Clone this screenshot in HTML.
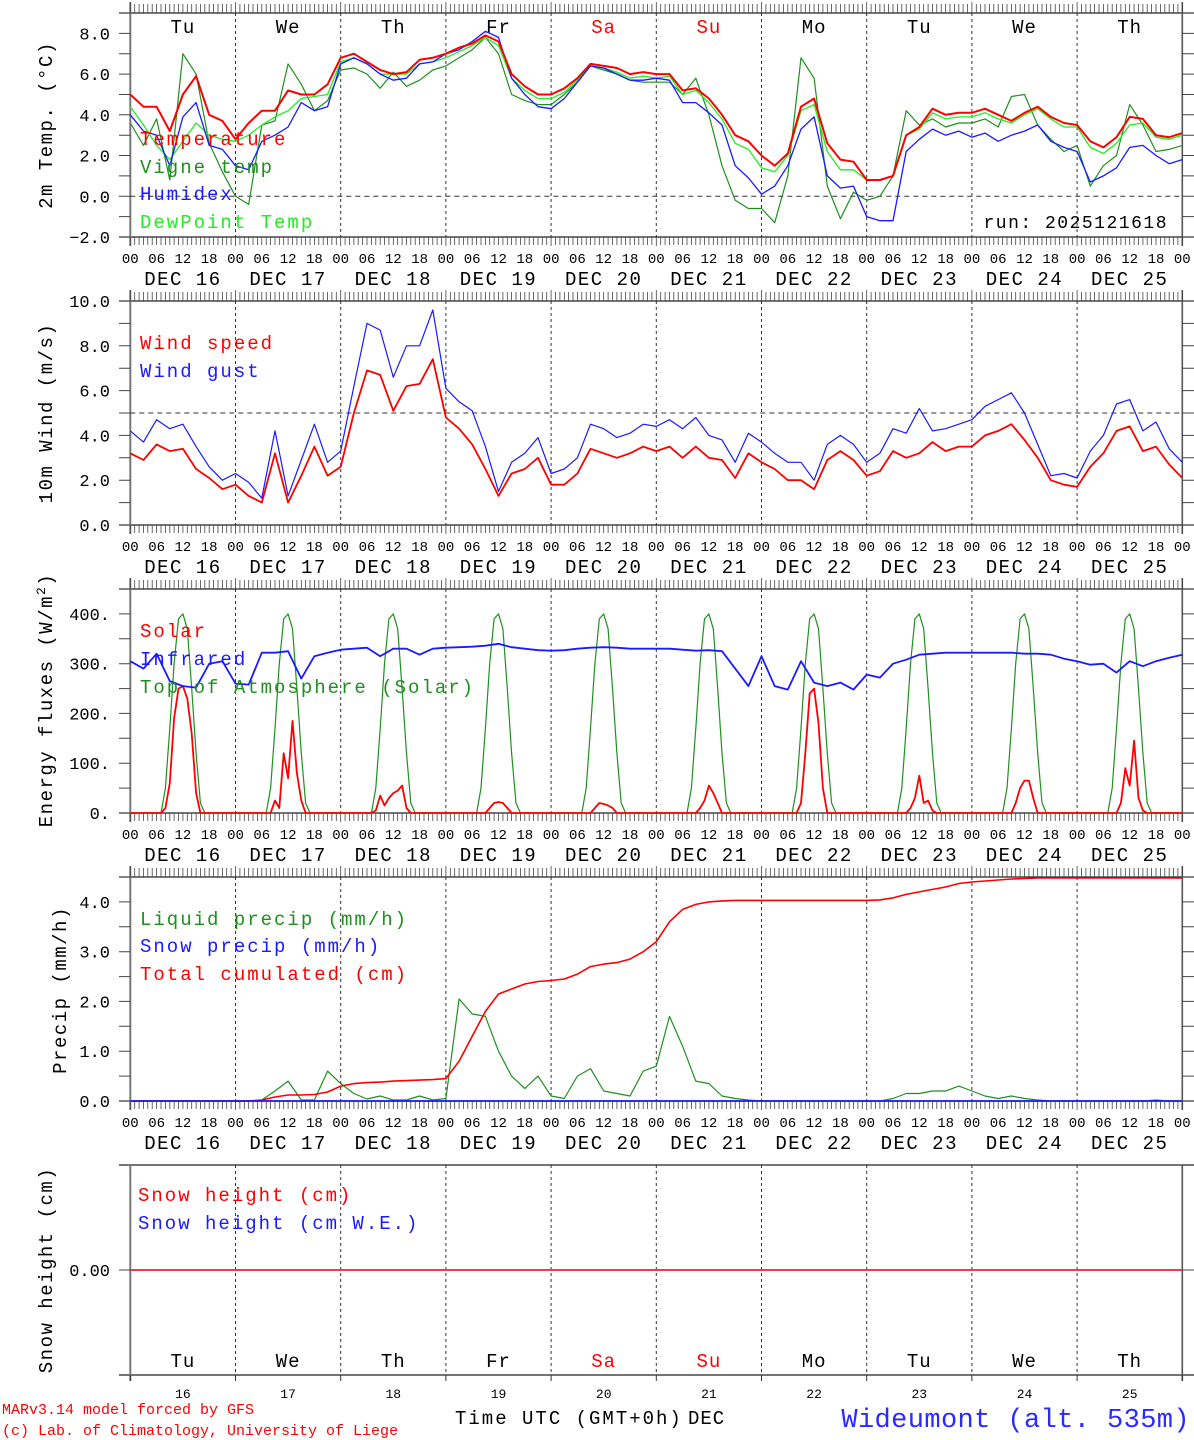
<!DOCTYPE html>
<html><head><meta charset="utf-8"><title>MAR forecast - Wideumont</title>
<style>
html,body{margin:0;padding:0;background:#fff;}
svg{display:block;}
text{font-family:"Liberation Mono","DejaVu Sans Mono",monospace;}
</style></head>
<body>
<svg id="chart" xmlns="http://www.w3.org/2000/svg" width="1194" height="1440" viewBox="0 0 1194 1440"></svg>
<script>
// ---------- DATA ----------
var days = ["16","17","18","19","20","21","22","23","24","25"];
var dows = ["Tu","We","Th","Fr","Sa","Su","Mo","Tu","We","Th"];
var dowColors = ["#000","#000","#000","#000","#f00","#f00","#000","#000","#000","#000"];
var hourTicks = ["00","06","12","18"];
var temperature = [5.0,4.4,4.4,3.2,5.0,5.9,4.0,3.7, 2.8,3.6,4.2,4.2,5.2,5.0,5.0,5.5, 6.8,7.0,6.6,6.2,6.0,6.1,6.7,6.8, 7.0,7.3,7.5,7.9,7.6,6.0,5.4,5.0, 5.0,5.3,5.8,6.5,6.4,6.3,6.0,6.1, 6.0,6.0,5.2,5.3,4.8,4.0,3.0,2.7, 2.0,1.5,2.1,4.4,4.8,2.6,1.8,1.7, 0.8,0.8,1.0,3.0,3.4,4.3,4.0,4.1, 4.1,4.3,4.0,3.7,4.1,4.4,3.9,3.6, 3.5,2.7,2.4,2.9,3.9,3.8,3.0,2.9,3.1];
var vigneTemp = [3.6,2.5,3.8,0.8,7.0,6.0,2.6,1.2, 0.0,-0.4,3.5,3.7,6.5,5.5,4.2,4.7, 6.2,6.3,6.0,5.3,6.1,5.4,5.7,6.2, 6.4,6.8,7.2,7.8,7.0,5.0,4.7,4.5, 4.5,5.0,5.6,6.4,6.2,6.0,5.7,5.6, 5.6,5.6,5.0,5.8,4.0,1.5,-0.2,-0.6, -0.6,-1.3,1.0,6.8,5.8,0.5,-1.1,0.2, -0.2,0.0,1.0,4.2,3.5,3.8,3.4,3.6, 3.6,3.8,3.4,4.9,5.0,3.5,2.8,2.2, 2.5,0.5,1.5,2.0,4.5,3.5,2.2,2.3,2.5];
var humidex = [4.0,3.2,3.0,1.5,3.9,4.6,2.5,2.3, 1.5,1.3,2.7,3.0,3.4,4.6,4.2,4.4, 6.5,6.8,6.5,6.0,5.7,5.8,6.5,6.6, 7.0,7.2,7.6,8.1,7.8,5.8,5.0,4.4, 4.3,4.8,5.6,6.4,6.3,6.0,5.7,5.7, 5.8,5.7,4.6,4.6,4.1,3.5,1.5,0.9, 0.1,0.5,1.5,3.3,3.9,1.0,0.4,0.5, -1.0,-1.2,-1.2,2.2,2.8,3.3,3.0,3.2, 2.9,3.1,2.7,3.0,3.2,3.5,2.7,2.4, 2.2,0.7,1.0,1.4,2.4,2.5,2.0,1.6,1.8];
var dewPoint = [4.4,3.5,2.5,1.8,2.7,3.6,3.0,2.8, 2.7,3.0,3.5,3.9,4.2,4.8,4.9,5.0, 6.6,6.8,6.5,6.0,6.0,6.0,6.5,6.6, 6.8,7.1,7.4,7.8,7.4,5.8,5.2,4.8, 4.8,5.1,5.7,6.4,6.3,6.1,5.8,5.9, 5.8,5.9,5.0,5.2,4.6,3.8,2.6,2.3, 1.4,1.2,2.0,4.2,4.5,2.2,1.3,1.3, 0.8,0.8,1.0,3.0,3.3,4.1,3.8,3.9, 3.9,4.1,3.8,3.6,4.0,4.3,3.8,3.4, 3.4,2.4,2.1,2.6,3.5,3.6,2.9,2.8,3.0];
var windSpeed = [3.2,2.9,3.6,3.3,3.4,2.5,2.1,1.6, 1.8,1.3,1.0,3.2,1.0,2.2,3.5,2.2, 2.6,5.0,6.9,6.7,5.1,6.2,6.3,7.4, 4.8,4.3,3.6,2.5,1.3,2.3,2.5,3.0, 1.8,1.8,2.3,3.4,3.2,3.0,3.2,3.5, 3.3,3.5,3.0,3.5,3.0,2.9,2.1,3.2, 2.8,2.5,2.0,2.0,1.6,2.9,3.3,2.9, 2.2,2.4,3.3,3.0,3.2,3.7,3.3,3.5, 3.5,4.0,4.2,4.5,3.8,3.0,2.0,1.8, 1.7,2.6,3.2,4.2,4.4,3.3,3.5,2.7,2.1];
var windGust = [4.2,3.7,4.7,4.3,4.5,3.5,2.6,2.0, 2.3,1.9,1.2,4.2,1.3,2.9,4.5,2.8, 3.3,6.2,9.0,8.7,6.6,8.0,8.0,9.6, 6.1,5.5,5.1,3.5,1.5,2.8,3.2,3.9, 2.3,2.5,3.0,4.5,4.3,3.9,4.1,4.5, 4.4,4.7,4.3,4.8,4.0,3.8,2.8,4.1, 3.7,3.2,2.8,2.8,2.0,3.6,4.0,3.6, 2.8,3.2,4.3,4.1,5.2,4.2,4.3,4.5, 4.7,5.3,5.6,5.9,5.0,3.6,2.2,2.3, 2.1,3.3,4.0,5.4,5.6,4.2,4.6,3.4,2.8];
var solar = [
0,0,0,0,0,0,0,0,10,60,190,250,255,230,160,40,0,0,0,0,0,0,0,0,
0,0,0,0,0,0,0,0,0,25,10,120,70,185,80,25,0,0,0,0,0,0,0,0,
0,0,0,0,0,0,0,0,5,35,15,30,40,45,55,10,0,0,0,0,0,0,0,0,
0,0,0,0,0,0,0,0,0,0,10,20,22,20,10,0,0,0,0,0,0,0,0,0,
0,0,0,0,0,0,0,0,0,0,10,20,18,15,10,0,0,0,0,0,0,0,0,0,
0,0,0,0,0,0,0,0,0,0,10,25,55,40,20,0,0,0,0,0,0,0,0,0,
0,0,0,0,0,0,0,0,0,20,120,240,250,180,50,0,0,0,0,0,0,0,0,0,
0,0,0,0,0,0,0,0,0,0,10,30,75,20,25,5,0,0,0,0,0,0,0,0,
0,0,0,0,0,0,0,0,0,0,20,50,65,65,30,0,0,0,0,0,0,0,0,0,
0,0,0,0,0,0,0,0,0,0,20,90,55,145,30,5,0,0,0,0,0,0,0,0,0];
var topAtmosphere = [
0,0,0,0,0,0,0,0,50,170,300,390,400,370,250,120,20,0,0,0,0,0,0,0,
0,0,0,0,0,0,0,0,50,170,300,390,400,370,250,120,20,0,0,0,0,0,0,0,
0,0,0,0,0,0,0,0,50,170,300,390,400,370,250,120,20,0,0,0,0,0,0,0,
0,0,0,0,0,0,0,0,50,170,300,390,400,370,250,120,20,0,0,0,0,0,0,0,
0,0,0,0,0,0,0,0,50,170,300,390,400,370,250,120,20,0,0,0,0,0,0,0,
0,0,0,0,0,0,0,0,50,170,300,390,400,370,250,120,20,0,0,0,0,0,0,0,
0,0,0,0,0,0,0,0,50,170,300,390,400,370,250,120,20,0,0,0,0,0,0,0,
0,0,0,0,0,0,0,0,50,170,300,390,400,370,250,120,20,0,0,0,0,0,0,0,
0,0,0,0,0,0,0,0,50,170,300,390,400,370,250,120,20,0,0,0,0,0,0,0,
0,0,0,0,0,0,0,0,50,170,300,390,400,370,250,120,20,0,0,0,0,0,0,0,0];
var infrared = [305,290,320,265,255,252,300,305, 260,258,322,322,325,270,315,322, 328,330,332,315,330,330,318,330, 332,333,334,336,340,333,330,327, 326,327,330,332,333,332,330,330, 330,330,328,326,327,325,290,255, 315,255,248,305,262,255,262,248, 278,272,300,308,318,320,322,322, 322,322,322,322,320,320,318,310, 305,298,300,282,305,295,305,312,318];
var liquidPrecip = [0,0,0,0,0,0,0,0, 0,0,0.02,0.2,0.4,0.02,0.02,0.6, 0.35,0.15,0.04,0.1,0.02,0.02,0.1,0.02, 0.05,2.05,1.75,1.7,1.0,0.5,0.25,0.5, 0.1,0.05,0.5,0.65,0.2,0.15,0.1,0.6, 0.7,1.7,1.1,0.4,0.35,0.1,0.05,0.02, 0,0,0,0,0,0,0,0, 0,0,0.05,0.15,0.15,0.2,0.2,0.3, 0.2,0.1,0.05,0.1,0.05,0.02,0,0, 0,0,0,0,0,0,0.02,0,0];
var snowPrecip = [0,0,0,0,0,0,0,0, 0,0,0,0,0,0,0,0, 0,0,0,0,0,0,0,0, 0,0,0,0,0,0,0,0, 0,0,0,0,0,0,0,0, 0,0,0,0,0,0,0,0, 0,0,0,0,0,0,0,0, 0,0,0,0,0,0,0,0, 0,0,0,0,0,0,0,0, 0,0,0,0,0,0,0,0,0];
var totalCumulated = [0,0,0,0,0,0,0,0, 0,0,0.02,0.08,0.12,0.12,0.13,0.18, 0.3,0.35,0.37,0.38,0.4,0.41,0.42,0.43, 0.45,0.8,1.3,1.8,2.15,2.25,2.35,2.4, 2.42,2.45,2.55,2.7,2.75,2.78,2.85,3.0, 3.2,3.6,3.85,3.95,4.0,4.02,4.03,4.03, 4.03,4.03,4.03,4.03,4.03,4.03,4.03,4.03, 4.03,4.04,4.08,4.15,4.2,4.25,4.3,4.37, 4.4,4.42,4.44,4.46,4.47,4.48,4.48,4.48, 4.48,4.48,4.48,4.48,4.48,4.48,4.48,4.48,4.48];
var snowHeight = [0,0,0,0,0,0,0,0,0,0,0];
var snowHeightWE = [0,0,0,0,0,0,0,0,0,0,0];
var p1Ticks = [-2,0,2,4,6,8];
var p1TickLabels = ["\u22122.0","0.0","2.0","4.0","6.0","8.0"];
var p2Ticks = [0,2,4,6,8,10];
var p2TickLabels = ["0.0","2.0","4.0","6.0","8.0","10.0"];
var p3Ticks = [0,100,200,300,400];
var p3TickLabels = ["0.","100.","200.","300.","400."];
var p4Ticks = [0,1,2,3,4];
var p4TickLabels = ["0.0","1.0","2.0","3.0","4.0"];

// ---------- RENDER ----------
var NS = "http://www.w3.org/2000/svg";
var svg = document.getElementById("chart");
var X0 = 130.3, DAYW = 105.2;
function X(h){ return X0 + h*DAYW/24; }
function mk(tag, attrs, parent){
  var e = document.createElementNS(NS, tag);
  for (var k in attrs) e.setAttribute(k, attrs[k]);
  (parent||svg).appendChild(e);
  return e;
}
function scaleY(p){ return function(v){ return p.bot - (v - p.min)/(p.max - p.min)*(p.bot - p.top); }; }
var panels = [
  {top:13, bot:237, min:-2, max:9, name:"temperature-panel"},
  {top:301, bot:525, min:0, max:10, name:"wind-panel"},
  {top:589, bot:813, min:0, max:450, name:"energy-panel"},
  {top:877, bot:1101, min:0, max:4.5, name:"precip-panel"},
  {top:1165, bot:1375, min:-1, max:1, name:"snow-panel"}
];
var XR = X(240);

function drawFrame(p, idx){
  var g = mk("g", {});
  
  
  for (var d=1; d<10; d++){
    var l = mk("line", {x1:X(d*24), x2:X(d*24), y1:p.top, y2:p.bot, stroke:"#333", "stroke-width":1, "stroke-dasharray":"3,3"}, g);
    
    
  }
  var t = mk("line", {x1:119, x2:1194, y1:p.top, y2:p.top, stroke:"#222", "stroke-width":1.3}, g);
  
  
  var b = mk("line", {x1:119, x2:1194, y1:p.bot, y2:p.bot, stroke:"#222", "stroke-width":1.3}, g);
  
  
  var la = mk("line", {x1:X0, x2:X0, y1:p.top-(idx<4?11:0), y2:p.bot+(idx<4?9:6), stroke:"#777", "stroke-width":2}, g);
  
  
  var ra = mk("line", {x1:XR, x2:XR, y1:p.top-(idx<4?11:0), y2:p.bot+(idx<4?9:6), stroke:"#555", "stroke-width":1.6}, g);
  
  
  if (idx < 4){
    var path = "";
    for (var h=0; h<=240; h++){
      var x = X(h).toFixed(1);
      var long = (h%24===0);
      path += "M"+x+" "+(p.top-(long?11:9))+"V"+p.top+"M"+x+" "+p.bot+"V"+(p.bot+(long?9:8));
    }
    var tk = mk("path", {d:path, stroke:"#444", "stroke-width":0.8, fill:"none"}, g);
    
    
    for (var d2=0; d2<=10; d2++){
      for (var j=0; j<4; j++){
        if (d2===10 && j>0) break;
        var hl = mk("text", {x:X(d2*24+j*6), y:p.bot+26, "font-size":14, "text-anchor":"middle", fill:"#000"}, g);
        hl.textContent = hourTicks[j];
        
        
      }
    }
    for (var d3=0; d3<10; d3++){
      var dl = mk("text", {x:X(d3*24+12), y:p.bot+48, "font-size":19, "text-anchor":"middle", "letter-spacing":1.5, fill:"#000"}, g);
      dl.textContent = "DEC " + days[d3];
      
      
    }
  } else {
    for (var d4=0; d4<=10; d4++){
      var bt = mk("line", {x1:X(d4*24), x2:X(d4*24), y1:p.bot, y2:p.bot+6, stroke:"#333", "stroke-width":1}, g);
      
      
    }
  }
  return g;
}
function yTicks(p, ticks, labels, minorStep, g){
  var sy = scaleY(p);
  var path = "";
  for (var v=p.min; v<=p.max+1e-9; v+=minorStep){
    var y = sy(v).toFixed(1);
    path += "M119 "+y+"H"+X0+"M"+XR+" "+y+"H1194";
  }
  var pt = mk("path", {d:path, stroke:"#444", "stroke-width":1, fill:"none"}, g);
  
  
  for (var i=0; i<ticks.length; i++){
    var tl = mk("text", {x:110, y:sy(ticks[i])+6, "font-size":17, "text-anchor":"end", fill:"#000"}, g);
    tl.textContent = labels[i];
    
    
  }
}
function series(p, arr, step, color, width, name, g){
  var sy = scaleY(p);
  var d = "";
  for (var i=0; i<arr.length; i++){
    d += (i?"L":"M") + X(i*step).toFixed(1) + " " + sy(arr[i]).toFixed(1);
  }
  var e = mk("path", {d:d, stroke:color, "stroke-width":width, fill:"none", "stroke-linejoin":"round"}, g);
  
  
  return e;
}
function label(x, y, txt, color, size, name, g, anchor, ls){
  var e = mk("text", {x:x, y:y, "font-size":size, fill:color, "text-anchor":anchor||"start", "letter-spacing":(ls===undefined?2:ls)}, g);
  e.textContent = txt;
  
  
  return e;
}
function yTitle(x, y, txt, g){
  var e = mk("text", {x:x, y:y, "font-size":19, fill:"#000", "text-anchor":"middle", "letter-spacing":1.5, transform:"rotate(-90 "+x+" "+y+")"}, g);
  e.textContent = txt;
  
  
  return e;
}

// Panel 1
var P = panels[0], g1 = drawFrame(P, 0);
yTicks(P, p1Ticks, p1TickLabels, 1, g1);
var zl = mk("line", {x1:X0, x2:XR, y1:scaleY(P)(0), y2:scaleY(P)(0), stroke:"#333", "stroke-width":1, "stroke-dasharray":"5,4"}, g1);


for (var i=0;i<10;i++){
  label(X(i*24+12), 33, dows[i], dowColors[i], 19, 'day-of-week-label', g1, "middle", 1);
}
series(P, vigneTemp, 3, "#1f8f1f", 1.2, "vigne-temp-line", g1);
series(P, dewPoint, 3, "#22ee22", 1.3, "dewpoint-line", g1);
series(P, humidex, 3, "#1a1aff", 1.3, "humidex-line", g1);
series(P, temperature, 3, "#ff0000", 2, "temperature-line", g1);
label(140, 145, "Temperature", "#ff0000", 19, "legend-temperature", g1);
label(140, 173, "Vigne temp", "#1f8f1f", 19, "legend-vigne-temp", g1);
label(140, 200, "Humidex", "#1a1aff", 19, "legend-humidex", g1);
label(140, 228, "DewPoint Temp", "#22ee22", 19, "legend-dewpoint", g1);
label(1168, 228, "run: 2025121618", "#000", 18, "run-label", g1, "end", 1.5);
yTitle(52, 125, "2m Temp. (\u00B0C)", g1);

// Panel 2
P = panels[1]; var g2 = drawFrame(P, 1);
yTicks(P, p2Ticks, p2TickLabels, 1, g2);
var fl = mk("line", {x1:X0, x2:XR, y1:scaleY(P)(5), y2:scaleY(P)(5), stroke:"#333", "stroke-width":1, "stroke-dasharray":"5,4"}, g2);


series(P, windGust, 3, "#1a1aff", 1.2, "wind-gust-line", g2);
series(P, windSpeed, 3, "#ff0000", 1.8, "wind-speed-line", g2);
label(140, 349, "Wind speed", "#ff0000", 19, "legend-wind-speed", g2);
label(140, 377, "Wind gust", "#1a1aff", 19, "legend-wind-gust", g2);
yTitle(52, 413, "10m Wind (m/s)", g2);

// Panel 3
P = panels[2]; var g3 = drawFrame(P, 2);
yTicks(P, p3Ticks, p3TickLabels, 50, g3);
series(P, topAtmosphere, 1, "#1f8f1f", 1.2, "toa-solar-line", g3);
series(P, solar, 1, "#ff0000", 1.8, "solar-line", g3);
series(P, infrared, 3, "#1a1aff", 1.8, "infrared-line", g3);
label(140, 637, "Solar", "#ff0000", 19, "legend-solar", g3);
label(140, 665, "Infrared", "#1a1aff", 19, "legend-infrared", g3);
label(140, 693, "Top of Atmosphere (Solar)", "#1f8f1f", 19, "legend-toa", g3);
var et = mk("text", {x:52, y:700, "font-size":19, fill:"#000", "text-anchor":"middle", "letter-spacing":1.5, transform:"rotate(-90 52 700)"}, g3);


et.textContent = "Energy fluxes (W/m";
var sup = mk("tspan", {"font-size":13, dy:-7}, et);
sup.textContent = "2";
var cl = mk("tspan", {dy:7}, et);
cl.textContent = ")";

// Panel 4
P = panels[3]; var g4 = drawFrame(P, 3);
yTicks(P, p4Ticks, p4TickLabels, 0.5, g4);
series(P, liquidPrecip, 3, "#1f8f1f", 1.2, "liquid-precip-line", g4);
series(P, totalCumulated, 3, "#ff0000", 1.6, "total-cumulated-line", g4);
series(P, snowPrecip, 3, "#1a1aff", 1.8, "snow-precip-line", g4);
label(140, 925, "Liquid precip (mm/h)", "#1f8f1f", 19, "legend-liquid-precip", g4);
label(140, 952, "Snow precip (mm/h)", "#1a1aff", 19, "legend-snow-precip", g4);
label(140, 980, "Total cumulated (cm)", "#ff0000", 19, "legend-total-cumulated", g4);
yTitle(66, 990, "Precip (mm/h)", g4);

// Panel 5
P = panels[4]; var g5 = drawFrame(P, 4);
var s5 = scaleY(P);
var t5 = mk("path", {d:"M119 "+s5(0)+"H"+X0+"M"+XR+" "+s5(0)+"H1194", stroke:"#444", "stroke-width":1}, g5);


label(110, s5(0)+6, "0.00", "#000", 17, "y-tick-label", g5, "end", 0);
series(P, snowHeightWE, 24, "#1a1aff", 1.5, "snow-height-we-line", g5);
series(P, snowHeight, 24, "#ff3030", 1.8, "snow-height-line", g5);
label(138, 1201, "Snow height (cm)", "#ff0000", 19, "legend-snow-height", g5);
label(138, 1229, "Snow height (cm W.E.)", "#1a1aff", 19, "legend-snow-height-we", g5);
yTitle(52, 1270, "Snow height (cm)", g5);
for (var k=0;k<10;k++){
  label(X(k*24+12), 1367, dows[k], dowColors[k], 19, 'day-of-week-label', g5, "middle", 1);
  label(X(k*24+12), 1398, days[k], "#000", 13, 'day-number-label', g5, "middle", 0);
}

// Footer
label(2, 1414, "MARv3.14 model forced by GFS", "#ff0000", 15, "credit-model", null, "start", 0);
label(2, 1435, "(c) Lab. of Climatology, University of Liege", "#ff0000", 15, "credit-lab", null, "start", 0);
label(455, 1424, "Time UTC (GMT+0h)", "#000", 19, "x-axis-title", null, "start", 2);
label(688, 1424, "DEC", "#000", 19, "x-axis-month", null, "start", 1);
label(1190, 1427, "Wideumont (alt. 535m)", "#2a2aff", 27, "station-title", null, "end", 0.4);
</script>
</body></html>
